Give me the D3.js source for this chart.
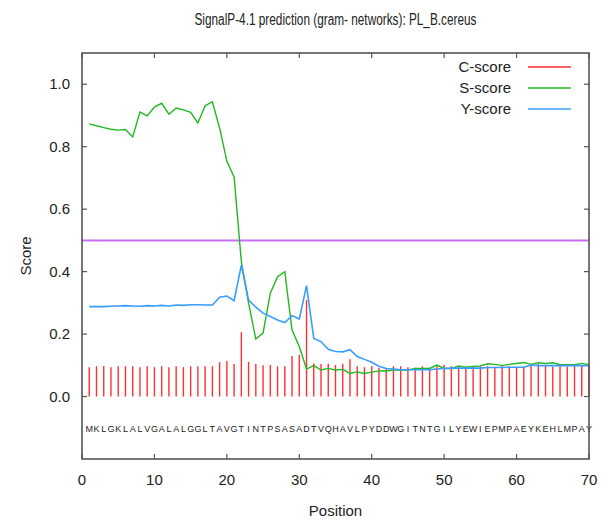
<!DOCTYPE html>
<html>
<head>
<meta charset="utf-8">
<script src="https://cdn.jsdelivr.net/npm/d3@7"></script>
<style>
  body { margin: 0; background: #fff; }
  text { font-family: "Liberation Sans Narrow", "Liberation Sans", Arial, sans-serif; }
</style>
</head>
<body>
<svg id="graphique" width="606" height="523"></svg>
<script>

// sequence, one letter per position
var sequence = "MKLGKLALVGALALGGLTAVGTINTPSASADTVQHAVLPYDDWGITNTGILYEWIEPMPAEYKEHLMPAY".split("");

var cScore = [
	0.094, 0.097, 0.098, 0.094, 0.097, 0.097, 0.097, 0.094, 0.097, 0.094,
	0.097, 0.094, 0.097, 0.094, 0.097, 0.097, 0.097, 0.097, 0.110, 0.114,
	0.104, 0.206, 0.111, 0.104, 0.100, 0.101, 0.097, 0.097, 0.130, 0.134,
	0.309, 0.106, 0.104, 0.105, 0.101, 0.105, 0.119, 0.097, 0.094, 0.097,
	0.092, 0.090, 0.097, 0.097, 0.094, 0.092, 0.097, 0.092, 0.097, 0.101,
	0.097, 0.097, 0.092, 0.097, 0.097, 0.097, 0.092, 0.097, 0.097, 0.095,
	0.095, 0.100, 0.104, 0.100, 0.095, 0.100, 0.095, 0.100, 0.100, 0.100
];

var sScore = [
	0.873, 0.867, 0.861, 0.856, 0.853, 0.855, 0.831, 0.911, 0.899, 0.927,
	0.939, 0.904, 0.924, 0.918, 0.910, 0.876, 0.931, 0.944, 0.860, 0.753,
	0.703, 0.432, 0.299, 0.184, 0.203, 0.331, 0.384, 0.400, 0.213, 0.160,
	0.088, 0.099, 0.085, 0.090, 0.085, 0.087, 0.074, 0.079, 0.074, 0.078,
	0.082, 0.082, 0.085, 0.085, 0.085, 0.090, 0.090, 0.090, 0.101, 0.090,
	0.090, 0.098, 0.094, 0.096, 0.098, 0.105, 0.103, 0.099, 0.103, 0.106,
	0.109, 0.103, 0.108, 0.106, 0.108, 0.102, 0.102, 0.102, 0.106, 0.102
];

var yScore = [
	0.288, 0.288, 0.288, 0.289, 0.290, 0.291, 0.290, 0.289, 0.291, 0.290,
	0.292, 0.290, 0.293, 0.292, 0.294, 0.294, 0.293, 0.293, 0.318, 0.322,
	0.307, 0.421, 0.309, 0.286, 0.267, 0.256, 0.245, 0.237, 0.259, 0.248,
	0.355, 0.186, 0.176, 0.151, 0.144, 0.143, 0.150, 0.128, 0.119, 0.110,
	0.097, 0.090, 0.088, 0.086, 0.086, 0.086, 0.086, 0.086, 0.088, 0.090,
	0.091, 0.091, 0.091, 0.091, 0.091, 0.093, 0.093, 0.093, 0.094, 0.094,
	0.094, 0.101, 0.099, 0.099, 0.099, 0.099, 0.099, 0.099, 0.099, 0.099
];

var threshold = 0.5;

var xTicks = [0, 10, 20, 30, 40, 50, 60, 70];
var yTicks = [0, 0.2, 0.4, 0.6, 0.8, 1.0];
var yTickLabels = ["0.0", "0.2", "0.4", "0.6", "0.8", "1.0"];

var legendNames = ["C-score", "S-score", "Y-score"];
var legendColors = ["#ff3030", "#22b822", "#3a9cff"];

var titre = "SignalP-4.1 prediction (gram- networks): PL_B.cereus";

var graphique = d3.select("#graphique");
var MARGINS = { top: 53, right: 17, bottom: 64, left: 82 };
var WIDTH = 606;
var HEIGHT = 523;

var xScale = d3.scaleLinear().domain([0, 70]).range([MARGINS.left, WIDTH - MARGINS.right]);
var yScale = d3.scaleLinear().domain([-0.2, 1.1]).range([HEIGHT - MARGINS.bottom, MARGINS.top]);

//// threshold line
graphique.append("line")
	.attr("x1", xScale(0)).attr("x2", xScale(70))
	.attr("y1", yScale(threshold)).attr("y2", yScale(threshold))
	.attr("stroke", "#c86ef0")
	.attr("stroke-width", 2);

//// C-score bars
graphique.append("g").selectAll("line")
	.data(cScore)
	.enter().append("line")
	.attr("x1", function(d, i){ return xScale(i + 1); })
	.attr("x2", function(d, i){ return xScale(i + 1); })
	.attr("y1", yScale(0))
	.attr("y2", function(d){ return yScale(d); })
	.attr("stroke", legendColors[0])
	.attr("stroke-width", 1.4);

//// S and Y curves
var ligne = d3.line()
	.x(function(d, i){ return xScale(i + 1); })
	.y(function(d){ return yScale(d); });

graphique.append("path")
	.attr("d", ligne(sScore))
	.attr("fill", "none")
	.attr("stroke", legendColors[1])
	.attr("stroke-width", 1.4);

graphique.append("path")
	.attr("d", ligne(yScore))
	.attr("fill", "none")
	.attr("stroke", legendColors[2])
	.attr("stroke-width", 1.6);

//// sequence letters
graphique.append("g").selectAll("text")
	.data(sequence)
	.enter().append("text")
	.attr("x", function(d, i){ return xScale(i + 1); })
	.attr("y", yScale(-0.1) + 4)
	.attr("text-anchor", "middle")
	.attr("font-size", 9)
	.attr("fill", "#222")
	.text(function(d){ return d; });

//// frame and ticks (mirrored like gnuplot)
var cadre = graphique.append("g").attr("stroke", "#555").attr("stroke-width", 1.2);

cadre.append("rect")
	.attr("x", xScale(0)).attr("y", yScale(1.1))
	.attr("width", xScale(70) - xScale(0))
	.attr("height", yScale(-0.2) - yScale(1.1))
	.attr("fill", "none")
	.attr("stroke-width", 1.6);

xTicks.forEach(function(t){
	cadre.append("line").attr("x1", xScale(t)).attr("x2", xScale(t))
		.attr("y1", yScale(-0.2)).attr("y2", yScale(-0.2) - 5);
	cadre.append("line").attr("x1", xScale(t)).attr("x2", xScale(t))
		.attr("y1", yScale(1.1)).attr("y2", yScale(1.1) + 5);
	graphique.append("text")
		.attr("x", xScale(t)).attr("y", yScale(-0.2) + 26)
		.attr("text-anchor", "middle")
		.attr("font-size", 15)
		.attr("fill", "#222")
		.text(t);
});

yTicks.forEach(function(t, i){
	cadre.append("line").attr("x1", xScale(0)).attr("x2", xScale(0) + 5)
		.attr("y1", yScale(t)).attr("y2", yScale(t));
	cadre.append("line").attr("x1", xScale(70)).attr("x2", xScale(70) - 5)
		.attr("y1", yScale(t)).attr("y2", yScale(t));
	graphique.append("text")
		.attr("x", xScale(0) - 12).attr("y", yScale(t) + 5)
		.attr("text-anchor", "end")
		.attr("font-size", 15)
		.attr("fill", "#222")
		.text(yTickLabels[i]);
});

//// titles
graphique.append("text")
	.attr("x", (xScale(0) + xScale(70)) / 2).attr("y", 25)
	.attr("text-anchor", "middle")
	.attr("font-size", 16)
	.attr("fill", "#222")
	.attr("textLength", 282)
	.attr("lengthAdjust", "spacingAndGlyphs")
	.text(titre);

graphique.append("text")
	.attr("x", (xScale(0) + xScale(70)) / 2).attr("y", 516)
	.attr("text-anchor", "middle")
	.attr("font-size", 15)
	.attr("fill", "#222")
	.text("Position");

graphique.append("text")
	.attr("transform", "translate(31," + ((yScale(-0.2) + yScale(1.1)) / 2) + ") rotate(-90)")
	.attr("text-anchor", "middle")
	.attr("font-size", 15)
	.attr("fill", "#222")
	.text("Score");

//// legend
legendNames.forEach(function(nom, i){
	var ly = 67 + i * 21;
	graphique.append("text")
		.attr("x", 511).attr("y", ly + 5)
		.attr("text-anchor", "end")
		.attr("font-size", 15)
		.attr("fill", "#222")
		.text(nom);
	graphique.append("line")
		.attr("x1", 528).attr("x2", 571)
		.attr("y1", ly).attr("y2", ly)
		.attr("stroke", legendColors[i])
		.attr("stroke-width", 1.5);
});

</script>
</body>
</html>
